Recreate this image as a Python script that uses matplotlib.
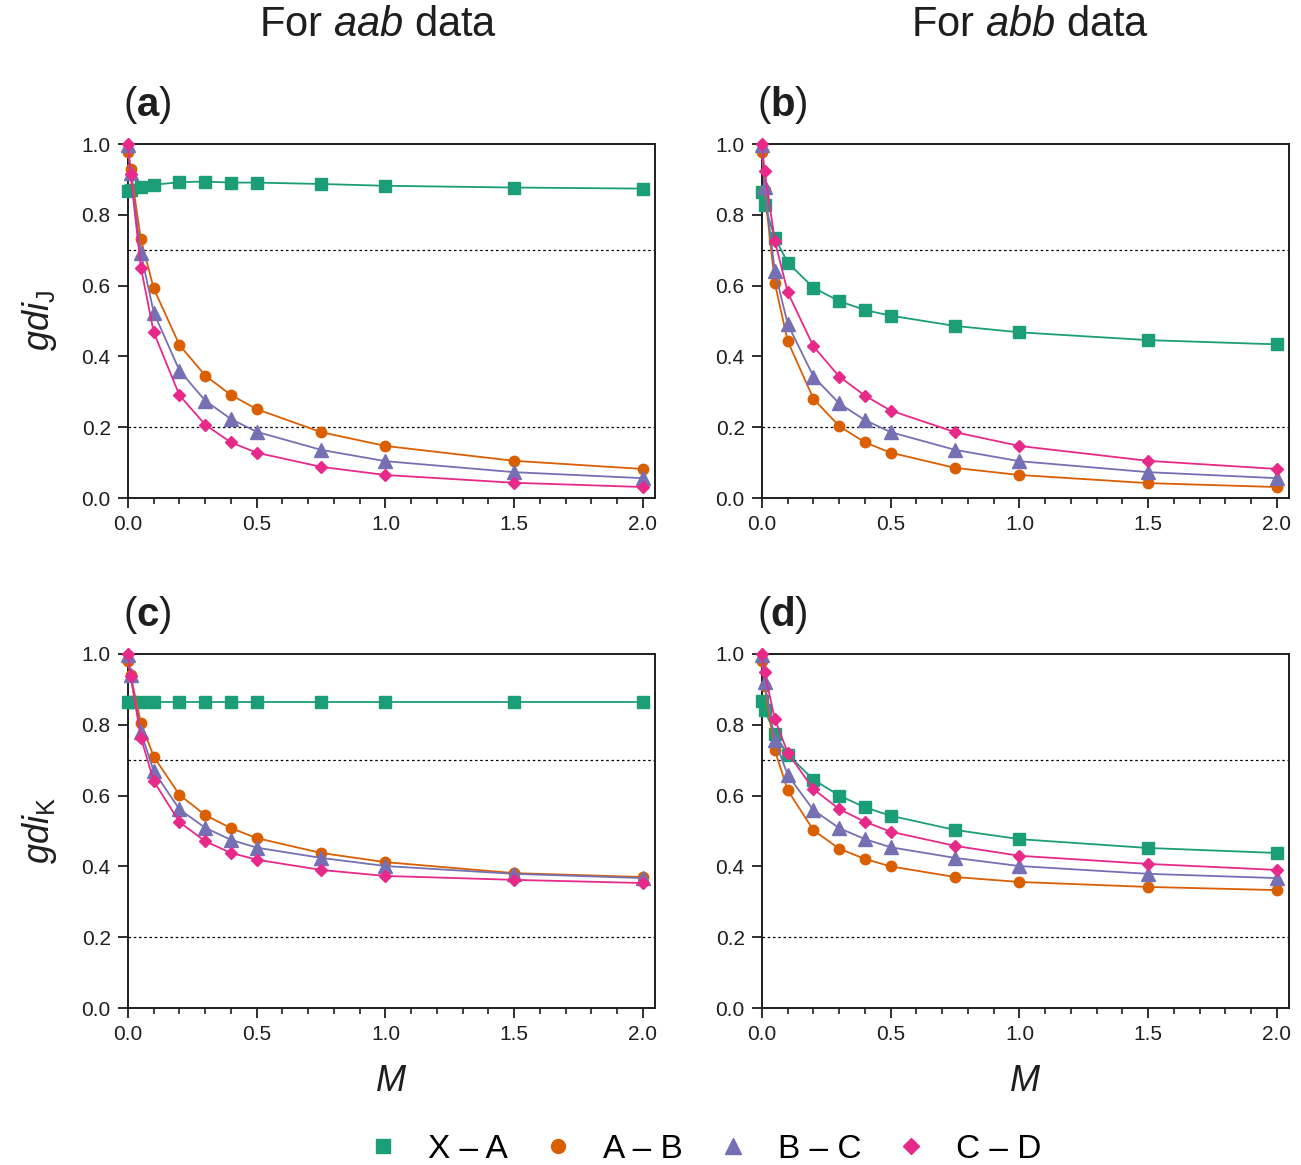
import matplotlib
matplotlib.use("Agg")
import matplotlib.pyplot as plt
from matplotlib.ticker import MultipleLocator, FormatStrFormatter
from matplotlib.lines import Line2D

plt.rcParams['font.family'] = ['Liberation Sans', 'DejaVu Sans']
plt.rcParams['mathtext.fontset'] = 'custom'
plt.rcParams['mathtext.rm'] = 'Liberation Sans'
plt.rcParams['mathtext.it'] = 'Liberation Sans:italic'
plt.rcParams['mathtext.bf'] = 'Liberation Sans:bold'

M = [0, 0.01, 0.05, 0.1, 0.2, 0.3, 0.4, 0.5, 0.75, 1.0, 1.5, 2.0]

series_names = ["X – A", "A – B", "B – C", "C – D"]

# panel (a): gdi_J, aab data
a_XA = [0.866, 0.870, 0.878, 0.885, 0.892, 0.894, 0.891, 0.891, 0.887, 0.882, 0.877, 0.874]
a_AB = [0.978, 0.930, 0.731, 0.592, 0.432, 0.346, 0.291, 0.251, 0.186, 0.147, 0.105, 0.082]
a_BC = [0.997, 0.917, 0.691, 0.524, 0.360, 0.275, 0.223, 0.187, 0.136, 0.104, 0.073, 0.056]
a_CD = [1.000, 0.915, 0.651, 0.468, 0.290, 0.207, 0.157, 0.128, 0.088, 0.065, 0.043, 0.031]

# panel (b): gdi_J, abb data
b_XA = [0.864, 0.828, 0.734, 0.665, 0.594, 0.556, 0.531, 0.515, 0.486, 0.468, 0.446, 0.434]
b_AB = [0.978, 0.870, 0.606, 0.443, 0.280, 0.203, 0.157, 0.128, 0.085, 0.065, 0.042, 0.031]
b_BC = [0.997, 0.878, 0.640, 0.491, 0.343, 0.267, 0.220, 0.186, 0.136, 0.104, 0.073, 0.056]
b_CD = [1.000, 0.924, 0.726, 0.581, 0.428, 0.343, 0.289, 0.247, 0.186, 0.147, 0.105, 0.082]

# panel (c): gdi_K, aab data
c_XA = [0.865, 0.865, 0.865, 0.865, 0.865, 0.865, 0.865, 0.865, 0.865, 0.865, 0.865, 0.865]
c_AB = [0.979, 0.940, 0.806, 0.710, 0.602, 0.545, 0.508, 0.480, 0.438, 0.412, 0.381, 0.370]
c_BC = [0.997, 0.940, 0.780, 0.669, 0.561, 0.509, 0.475, 0.453, 0.424, 0.401, 0.379, 0.367]
c_CD = [1.000, 0.939, 0.764, 0.641, 0.525, 0.471, 0.438, 0.419, 0.390, 0.373, 0.362, 0.353]

# panel (d): gdi_K, abb data
d_XA = [0.866, 0.842, 0.774, 0.716, 0.645, 0.600, 0.567, 0.543, 0.503, 0.477, 0.452, 0.438]
d_AB = [0.979, 0.909, 0.728, 0.615, 0.502, 0.450, 0.421, 0.400, 0.370, 0.356, 0.342, 0.333]
d_BC = [0.997, 0.920, 0.756, 0.658, 0.559, 0.508, 0.477, 0.454, 0.424, 0.401, 0.379, 0.367]
d_CD = [1.000, 0.948, 0.816, 0.721, 0.618, 0.562, 0.526, 0.498, 0.458, 0.430, 0.407, 0.390]

colors = ["#1b9e77", "#d95f02", "#7570b3", "#e7298a"]
markers = ["s", "o", "^", "D"]
msizes = [8, 7.5, 9.5, 6]

panels = [
    ("a", [a_XA, a_AB, a_BC, a_CD]),
    ("b", [b_XA, b_AB, b_BC, b_CD]),
    ("c", [c_XA, c_AB, c_BC, c_CD]),
    ("d", [d_XA, d_AB, d_BC, d_CD]),
]

W, H = 1301, 1165
fig = plt.figure(figsize=(W / 100, H / 100), dpi=100)

lefts = [128, 762, 128, 762]
tops = [144, 144, 654, 654]
aw, ah = 527, 354
ink = "#1e1e1e"

axes = []
for i, (lab, data) in enumerate(panels):
    ax = fig.add_axes([lefts[i] / W, 1 - (tops[i] + ah) / H, aw / W, ah / H])
    axes.append(ax)
    for yref in (0.2, 0.7):
        ax.axhline(yref, color="black", ls=(0, (2, 2.2)), lw=0.9, zorder=1)
    for k, ys in enumerate(data):
        ax.plot(M, ys, color=colors[k], marker=markers[k], ms=msizes[k],
                lw=1.3, mec=colors[k], zorder=3 + k, clip_on=False)
    ax.set_xlim(0, 2.047)
    ax.set_ylim(0, 1.0)
    ax.xaxis.set_major_locator(MultipleLocator(0.5))
    ax.xaxis.set_minor_locator(MultipleLocator(0.1))
    ax.yaxis.set_major_locator(MultipleLocator(0.2))
    ax.xaxis.set_major_formatter(FormatStrFormatter("%.1f"))
    ax.yaxis.set_major_formatter(FormatStrFormatter("%.1f"))
    ax.tick_params(axis="both", which="major", direction="out", length=7.5, width=1.3,
                   labelsize=15, pad=5, color=ink, labelcolor=ink)
    ax.tick_params(axis="x", which="minor", direction="out", length=4.5, width=1.2, color=ink)
    for s in ax.spines.values():
        s.set_linewidth(1.4)
        s.set_color(ink)
    ax.text(-5 / aw, 1.05, "(" + r"$\mathbf{" + lab + "}$" + ")", transform=ax.transAxes,
            fontsize=29, ha="left", va="bottom", color=ink)

axes[0].set_ylabel(r"$gdi_{\mathrm{J}}$", fontsize=26, labelpad=16, color=ink)
axes[2].set_ylabel(r"$gdi_{\mathrm{K}}$", fontsize=26, labelpad=16, color=ink)
axes[2].set_xlabel(r"$M$", fontsize=26, labelpad=14, color=ink)
axes[3].set_xlabel(r"$M$", fontsize=26, labelpad=14, color=ink)

fig.text((128 + aw / 2 - 13) / W, 1 - 25 / H, r"For $aab$ data", fontsize=30,
         ha="center", va="center", color=ink)
fig.text((762 + aw / 2 + 5) / W, 1 - 25 / H, r"For $abb$ data", fontsize=30,
         ha="center", va="center", color=ink)

handles = [Line2D([], [], color=colors[k], marker=markers[k], ms=msizes[k] + 2.5, ls="none")
           for k in range(4)]
fig.legend(handles, series_names, loc="center", bbox_to_anchor=(704 / W, 1 - 1149 / H),
           ncol=4, frameon=False, fontsize=24, handletextpad=0.85, columnspacing=1.0,
           handlelength=1.0)

fig.savefig("out.png", dpi=100)
